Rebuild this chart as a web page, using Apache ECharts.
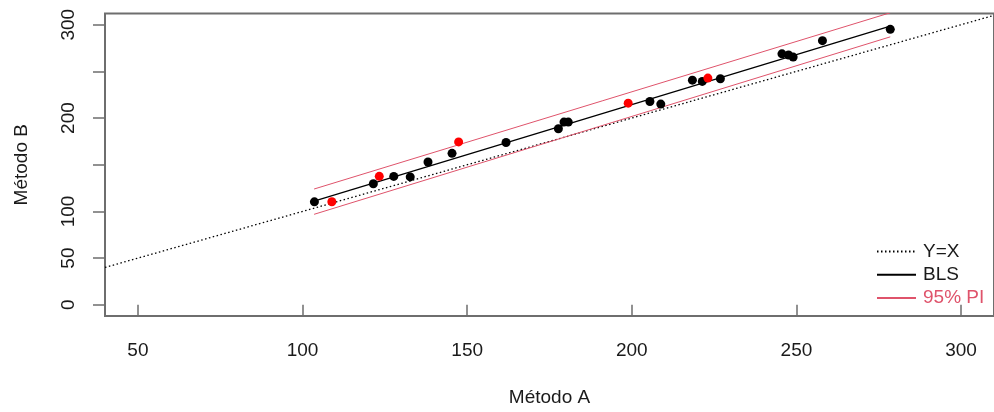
<!DOCTYPE html>
<html>
<head>
<meta charset="utf-8">
<script src="https://cdn.jsdelivr.net/npm/echarts@6/dist/echarts.min.js"></script>
<style>
html,body{margin:0;padding:0;background:#fff;}
#chart{width:994px;height:412px;}
</style>
</head>
<body>
<div id="chart"></div>
<script>
// ---- data ----
const xTicks = [50, 100, 150, 200, 250, 300];
const yTicks = [0, 50, 100, 150, 200, 250, 300];
const yTickLabels = [0, 50, 100, 200, 300];

const blackA = [103.6, 121.5, 127.7, 132.7, 138.1, 145.4, 161.8, 177.7, 179.4, 180.7, 205.5, 208.8, 218.4, 221.4, 226.9, 245.6, 247.6, 249.0, 257.9, 278.5];
const blackB = [110.3, 129.7, 137.5, 137.0, 153.0, 162.2, 173.8, 188.6, 195.7, 195.7, 217.8, 215.0, 240.6, 239.3, 242.1, 268.8, 267.5, 265.3, 282.9, 295.0];

const redA = [108.9, 123.3, 147.4, 198.9, 223.1];
const redB = [110.4, 137.6, 174.5, 216.0, 242.8];

const blsA = [103.5, 278.5];
const blsB = [111.0, 298.4];
const piUpperB = [124.0, 312.8];
const piLowerB = [96.9, 287.0];
const identityA = [40, 310];

const legendNames = ['Y=X', 'BLS', '95% PI'];

const pairs = (a, b) => a.map((v, i) => [v, b[i]]);

const txt = '#1a1a1a';
const boxCol = '#6e6e6e';
const piCol = '#DF536B';
const FONT = 'Liberation Sans, Arial, sans-serif';

const chart = echarts.init(document.getElementById('chart'), null, {renderer: 'canvas'});
chart.setOption({
  animation: false,
  backgroundColor: '#ffffff',
  textStyle: {fontFamily: FONT},
  grid: {
    left: 105, top: 13.5, width: 894.5, height: 306.5,
    show: true, borderColor: boxCol, borderWidth: 2, backgroundColor: 'transparent'
  },
  xAxis: {
    type: 'value', min: 40, max: 310,
    name: 'Método A', nameLocation: 'middle', nameGap: 72,
    nameTextStyle: {fontSize: 19, color: txt, fontFamily: FONT},
    axisLine: {show: false},
    splitLine: {show: false},
    axisTick: {show: true, length: 12, inside: false, customValues: xTicks, lineStyle: {color: boxCol, width: 1.5}},
    axisLabel: {customValues: xTicks, margin: 25, fontSize: 19, color: txt, fontFamily: FONT}
  },
  yAxis: {
    type: 'value', min: -12, max: 312,
    name: 'Método B', nameLocation: 'middle', nameGap: 74, nameRotate: 90,
    nameTextStyle: {fontSize: 19, color: txt, fontFamily: FONT},
    axisLine: {show: false},
    splitLine: {show: false},
    axisTick: {show: true, length: 12, inside: false, customValues: yTicks, lineStyle: {color: boxCol, width: 1.5}},
    axisLabel: {customValues: yTickLabels, rotate: 90, margin: 27, fontSize: 19, color: txt, fontFamily: FONT}
  },
  legend: {
    orient: 'vertical', left: 871, top: 237,
    itemWidth: 39, itemHeight: 14, itemGap: 4.3,
    itemStyle: {opacity: 0},
    textStyle: {fontSize: 19, color: txt, fontFamily: FONT, lineHeight: 19, padding: [0, 0, 0, 2]},
    data: [
      {name: legendNames[0]},
      {name: legendNames[1]},
      {name: legendNames[2], textStyle: {color: piCol}}
    ]
  },
  series: [
    {
      name: legendNames[0], type: 'line', symbol: 'none', silent: true,
      data: pairs(identityA, identityA),
      lineStyle: {color: '#000', width: 1.3, type: [1.5, 2.5]}, z: 1
    },
    {
      name: legendNames[1], type: 'line', symbol: 'none', silent: true,
      data: pairs(blsA, blsB),
      lineStyle: {color: '#000', width: 1.2}, z: 2
    },
    {
      name: legendNames[2], type: 'line', symbol: 'none', silent: true,
      data: pairs(blsA, piUpperB),
      lineStyle: {color: piCol, width: 1}, z: 2
    },
    {
      name: legendNames[2], type: 'line', symbol: 'none', silent: true,
      data: pairs(blsA, piLowerB),
      lineStyle: {color: piCol, width: 1}, z: 2
    },
    {
      name: 'black', type: 'scatter', symbol: 'circle', symbolSize: 9,
      data: pairs(blackA, blackB), itemStyle: {color: '#000', opacity: 1}, z: 3
    },
    {
      name: 'red', type: 'scatter', symbol: 'circle', symbolSize: 9,
      data: pairs(redA, redB), itemStyle: {color: '#ff0000', opacity: 1}, z: 3
    }
  ]
});
</script>
</body>
</html>
